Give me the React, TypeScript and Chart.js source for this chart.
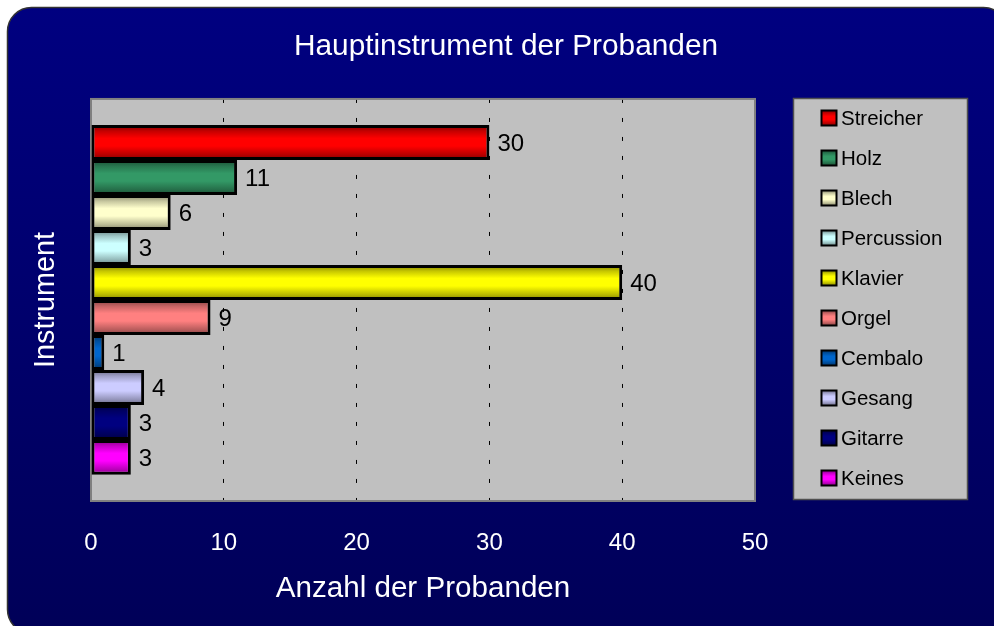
import React, { useEffect, useRef } from 'react';
import { Chart, registerables } from 'chart.js';

Chart.register(...registerables);

const categories = ['Streicher', 'Holz', 'Blech', 'Percussion', 'Klavier', 'Orgel', 'Cembalo', 'Gesang', 'Gitarre', 'Keines'];
const values = [30, 11, 6, 3, 40, 9, 1, 4, 3, 3];
const colors = ['#FF0000', '#339966', '#FFFFCC', '#CCFFFF', '#FFFF00', '#FF8080', '#0066CC', '#CCCCFF', '#000080', '#FF00FF'];
const xTicks = [0, 10, 20, 30, 40, 50];
const titleText = 'Hauptinstrument der Probanden';
const xTitle = 'Anzahl der Probanden';
const yTitle = 'Instrument';

const FONT = '"Liberation Sans", Arial, sans-serif';

function shade(hex: string, f: number): string {
  const h = hex.replace('#', '');
  const r = Math.round(parseInt(h.slice(0, 2), 16) * f);
  const g = Math.round(parseInt(h.slice(2, 4), 16) * f);
  const b = Math.round(parseInt(h.slice(4, 6), 16) * f);
  return `rgb(${r},${g},${b})`;
}

function cylGradient(ctx: CanvasRenderingContext2D, top: number, bottom: number, color: string) {
  const g = ctx.createLinearGradient(0, top, 0, bottom);
  g.addColorStop(0, shade(color, 0.5));
  g.addColorStop(0.18, shade(color, 0.78));
  g.addColorStop(0.38, color);
  g.addColorStop(0.6, color);
  g.addColorStop(0.85, shade(color, 0.72));
  g.addColorStop(1, shade(color, 0.5));
  return g;
}

const decorPlugin = {
  id: 'decor',
  beforeDraw(chart: any) {
    const { ctx, chartArea } = chart;
    ctx.save();
    ctx.fillStyle = '#ffffff';
    ctx.fillRect(0, 0, chart.width, chart.height);
    const bg = ctx.createLinearGradient(0, 7, 0, 632);
    bg.addColorStop(0, '#000080');
    bg.addColorStop(1, '#000058');
    ctx.beginPath();
    ctx.roundRect(7.5, 7.5, 1000, 626, 24);
    ctx.fillStyle = bg;
    ctx.fill();
    ctx.lineWidth = 1.5;
    ctx.strokeStyle = '#333333';
    ctx.stroke();
    ctx.fillStyle = '#C0C0C0';
    ctx.fillRect(chartArea.left, chartArea.top, chartArea.right - chartArea.left, chartArea.bottom - chartArea.top);
    ctx.restore();
  },
  beforeDatasetsDraw(chart: any) {
    const { ctx, chartArea } = chart;
    ctx.save();
    ctx.strokeStyle = '#808080';
    ctx.lineWidth = 2;
    ctx.strokeRect(chartArea.left, chartArea.top, chartArea.right - chartArea.left, chartArea.bottom - chartArea.top);
    ctx.restore();
    chart.data.datasets.forEach((ds: any, di: number) => {
      const meta = chart.getDatasetMeta(di);
      meta.data.forEach((el: any) => {
        const { y, height } = el.getProps(['y', 'height'], true);
        const g = cylGradient(ctx, y - height / 2, y + height / 2, colors[di]);
        el.options = Object.assign({}, el.options, { backgroundColor: g });
      });
    });
  },
  afterDatasetsDraw(chart: any) {
    const { ctx } = chart;
    ctx.save();
    ctx.fillStyle = '#000000';
    ctx.font = `24px ${FONT}`;
    ctx.textAlign = 'left';
    ctx.textBaseline = 'middle';
    chart.data.datasets.forEach((ds: any, di: number) => {
      const meta = chart.getDatasetMeta(di);
      meta.data.forEach((el: any, i: number) => {
        const { x, y } = el.getProps(['x', 'y'], true);
        ctx.fillText(String(ds.data[i]), x + 8, y + 2);
      });
    });
    ctx.restore();
  },
  afterDraw(chart: any) {
    const { ctx } = chart;
    ctx.save();
    const lx = 793, ly = 98, lw = 174, lh = 401;
    ctx.fillStyle = '#C0C0C0';
    ctx.fillRect(lx, ly, lw, lh);
    ctx.strokeStyle = '#505050';
    ctx.lineWidth = 1.5;
    ctx.strokeRect(lx + 0.5, ly + 0.5, lw, lh);
    ctx.font = `20.5px ${FONT}`;
    ctx.textAlign = 'left';
    ctx.textBaseline = 'middle';
    chart.data.datasets.forEach((ds: any, di: number) => {
      const cy = 118 + 40 * di;
      const sx = 821.5, sy = cy - 7.5, s = 15;
      ctx.fillStyle = cylGradient(ctx, sy, sy + s, colors[di]);
      ctx.fillRect(sx, sy, s, s);
      ctx.strokeStyle = '#000000';
      ctx.lineWidth = 2;
      ctx.strokeRect(sx, sy, s, s);
      ctx.fillStyle = '#000000';
      ctx.fillText(ds.label, 841, cy + 1);
    });
    ctx.restore();
  },
};

export default function App() {
  const ref = useRef<HTMLCanvasElement | null>(null);

  useEffect(() => {
    if (!ref.current) return;
    const chart = new Chart(ref.current, {
      type: 'bar',
      data: {
        labels: [''],
        datasets: categories.map((c, i) => ({
          label: c,
          data: [values[i]],
          backgroundColor: colors[i],
          borderColor: '#000000',
          borderWidth: 3,
          borderSkipped: false,
          categoryPercentage: 0.87,
          barPercentage: 1,
        })),
      },
      options: {
        indexAxis: 'y',
        responsive: false,
        animation: false,
        events: [],
        devicePixelRatio: 1,
        layout: { padding: { left: 18, right: 0, top: 0, bottom: 0 } },
        plugins: {
          legend: { display: false },
          tooltip: { enabled: false },
          title: {
            display: true,
            text: titleText,
            color: '#ffffff',
            font: { family: FONT, size: 29.8, weight: 'normal' },
            padding: { top: 28.5, bottom: 34.7 },
          },
        },
        scales: {
          x: {
            type: 'linear',
            position: 'bottom',
            min: 0,
            max: 50,
            afterBuildTicks: (s: any) => {
              s.ticks = xTicks.map((v) => ({ value: v }));
            },
            afterFit: (s: any) => {
              s.height = 125;
            },
            ticks: {
              color: '#ffffff',
              font: { family: FONT, size: 24 },
              padding: 27.5,
            },
            grid: {
              drawTicks: false,
              lineWidth: 1,
              color: (c: any) => (c.tick && (c.tick.value === 0 || c.tick.value === 50) ? 'rgba(0,0,0,0)' : '#000000'),
            },
            border: { display: true, color: '#404040', width: 1.5, dash: [4, 15] },
            title: {
              display: true,
              text: xTitle,
              color: '#ffffff',
              font: { family: FONT, size: 29.6, weight: 'normal' },
              padding: { top: 0, bottom: 19 },
            },
          },
          y: {
            type: 'category',
            position: 'left',
            afterFit: (s: any) => {
              s.width = 73;
            },
            ticks: { display: false },
            grid: { display: false },
            border: { display: true, color: '#606060', width: 1.5 },
            title: {
              display: true,
              text: yTitle,
              color: '#ffffff',
              font: { family: FONT, size: 28.8, weight: 'normal' },
              padding: { top: 11, bottom: 0 },
            },
          },
          yr: {
            type: 'linear',
            position: 'right',
            display: true,
            afterFit: (s: any) => {
              s.width = 239;
            },
            ticks: { display: false },
            grid: { display: false },
            border: { display: false },
          },
        },
      },
      plugins: [decorPlugin],
    } as any);
    return () => chart.destroy();
  }, []);

  return (
    <div style={{ position: 'fixed', left: 0, top: 0, width: 994, height: 626, background: '#ffffff' }}>
      <canvas ref={ref} width={994} height={626} style={{ display: 'block', width: 994, height: 626 }} />
    </div>
  );
}
